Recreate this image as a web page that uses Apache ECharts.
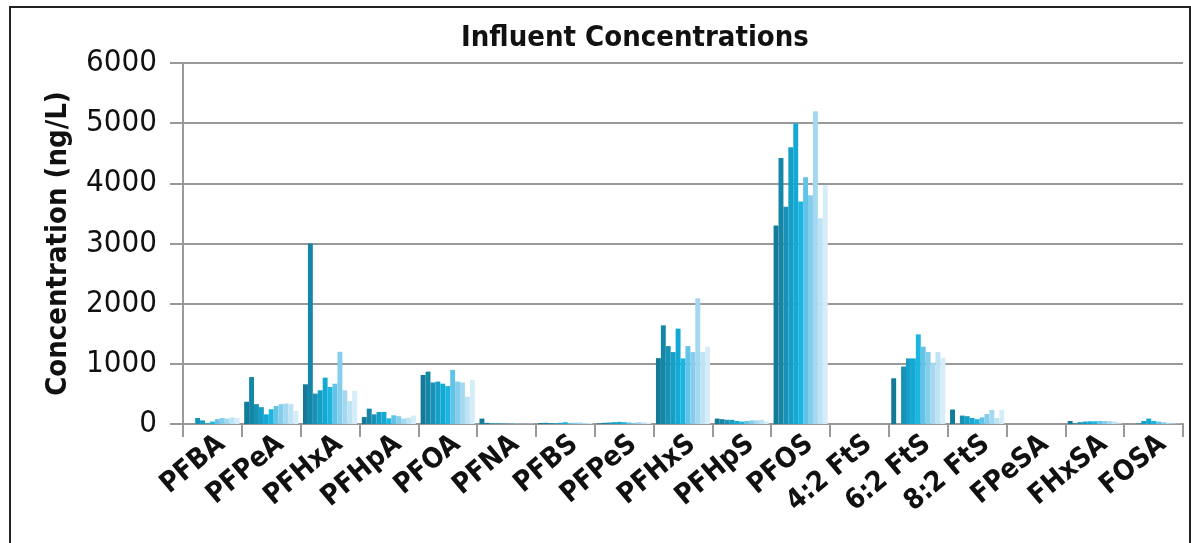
<!DOCTYPE html>
<html>
<head>
<meta charset="utf-8">
<script src="https://cdn.jsdelivr.net/npm/echarts@6/dist/echarts.min.js"></script>
<style>
  html, body { margin: 0; padding: 0; background: #fff; }
  #frame { position: absolute; left: 9px; top: 6px; width: 1178px; height: 600px; border: 2px solid #222; }
  #chart { position: absolute; left: 0; top: 0; width: 1191px; height: 543px; }
</style>
</head>
<body>
<div id="frame"></div>
<div id="chart"></div>
<script>
const categories = ["PFBA", "PFPeA", "PFHxA", "PFHpA", "PFOA", "PFNA", "PFBS", "PFPeS", "PFHxS",
  "PFHpS", "PFOS", "4:2 FtS", "6:2 FtS", "8:2 FtS", "FPeSA", "FHxSA", "FOSA"];
const yTicks = [0, 1000, 2000, 3000, 4000, 5000, 6000];

// one row per category, one value per sample (11 samples)
const PFBA   = [0, 0, 100, 60, 10, 40, 80, 100, 90, 110, 100];
const PFPeA  = [370, 780, 330, 280, 160, 245, 300, 330, 340, 330, 220];
const PFHxA  = [660, 3000, 505, 560, 770, 615, 670, 1200, 560, 380, 550];
const PFHpA  = [115, 255, 160, 200, 200, 95, 145, 130, 90, 105, 140];
const PFOA   = [815, 870, 690, 705, 670, 630, 900, 705, 690, 450, 730];
const PFNA   = [90, 20, 10, 10, 5, 5, 5, 10, 5, 5, 5];
const PFBS   = [15, 20, 15, 10, 20, 30, 15, 20, 25, 15, 20];
const PFPeS  = [10, 20, 25, 30, 35, 30, 25, 20, 30, 25, 20];
const PFHxS  = [1095, 1640, 1295, 1195, 1585, 1090, 1295, 1195, 2090, 1195, 1285];
const PFHpS  = [90, 80, 70, 70, 50, 40, 50, 60, 60, 70, 40];
const PFOS   = [3300, 4420, 3610, 4600, 5000, 3700, 4100, 3800, 5200, 3420, 3970];
const FtS42  = [0, 0, 0, 0, 0, 0, 0, 0, 0, 0, 0];
const FtS62  = [760, 0, 955, 1090, 1090, 1490, 1285, 1195, 1020, 1195, 1100];
const FtS82  = [240, 0, 140, 130, 100, 80, 110, 165, 235, 100, 235];
const FPeSA  = [0, 0, 0, 0, 0, 0, 0, 0, 0, 0, 0];
const FHxSA  = [50, 10, 30, 40, 45, 45, 50, 50, 45, 40, 10];
const FOSA   = [0, 0, 10, 50, 90, 50, 40, 30, 20, 10, 5];

const rows = [PFBA, PFPeA, PFHxA, PFHpA, PFOA, PFNA, PFBS, PFPeS, PFHxS,
  PFHpS, PFOS, FtS42, FtS62, FtS82, FPeSA, FHxSA, FOSA];

const colors = ["#137a99", "#1686a7", "#1792b6", "#169fc6", "#12aad5", "#1cb5e0",
  "#62c3e8", "#84cdeb", "#a3d8f0", "#bde3f4", "#d4edf8"];

const font = "'DejaVu Sans Condensed', 'Liberation Sans Narrow', sans-serif";

const chart = echarts.init(document.getElementById("chart"));

const series = colors.map((c, i) => ({
  name: "S" + (i + 1),
  type: "bar",
  data: rows.map(r => r[i]),
  itemStyle: { color: c },
  barGap: "0%",
  barCategoryGap: "8%"
}));

chart.setOption({
  animation: false,
  title: {
    text: "Influent Concentrations",
    left: 630, top: 19, textAlign: "center",
    textStyle: { fontFamily: font, fontSize: 29, fontWeight: "bold", color: "#111" }
  },
  grid: { left: 183, right: 8, top: 63, bottom: 119 },
  xAxis: {
    type: "category",
    data: categories,
    axisLine: { lineStyle: { color: "#999", width: 2 } },
    axisTick: { show: true, length: 13, lineStyle: { color: "#999", width: 2 } },
    axisLabel: {
      rotate: 40, interval: 0, margin: 6, verticalAlign: "top",
      fontFamily: font, fontSize: 28, fontWeight: "bold", color: "#111"
    }
  },
  yAxis: {
    type: "value",
    min: yTicks[0], max: yTicks[yTicks.length - 1], interval: 1000,
    name: "Concentration (ng/L)",
    nameLocation: "middle", nameGap: 110, nameRotate: 90,
    nameTextStyle: { fontFamily: font, fontSize: 29, fontWeight: "bold", color: "#111" },
    axisLine: { show: true, lineStyle: { color: "#999", width: 2 } },
    axisTick: { show: true, length: 13, lineStyle: { color: "#999", width: 2 } },
    splitLine: { lineStyle: { color: "#999", width: 2 } },
    axisLabel: {
      fontFamily: font, fontSize: 31, color: "#111", margin: 26,
      formatter: v => String(v)
    }
  },
  series: series
});
</script>
</body>
</html>
